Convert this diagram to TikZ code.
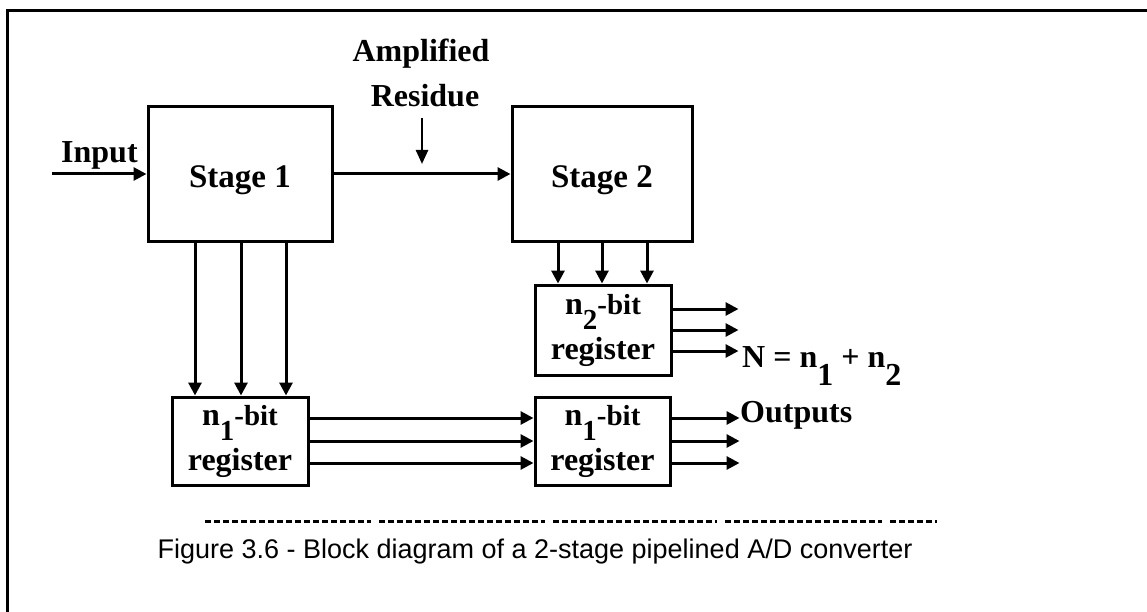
\documentclass[tikz,border=0pt]{standalone}
\usepackage{fontspec}
\setmainfont{Liberation Serif}
\newfontfamily\capfont{Liberation Sans}
\usetikzlibrary{arrows.meta}
\newcommand{\lowdig}[1]{\raisebox{-15pt}{\fontsize{29}{29}\selectfont #1}}
\newcommand{\bigdig}[1]{\raisebox{-18pt}{\fontsize{32}{32}\selectfont #1}}
\newcommand{\smallbit}{{\fontsize{29}{29}\selectfont -bit}}
\begin{document}
\begin{tikzpicture}[x=1pt,y=-1pt,
  blk/.style={draw, line width=3pt, inner sep=0pt, text height=28pt, text depth=0pt,
    font=\bfseries\fontsize{33}{45}\selectfont},
  regbox/.style={draw, line width=3pt, inner sep=0pt, align=center,
    font=\bfseries\fontsize{32}{45}\selectfont},
  lbl/.style={inner sep=0pt, font=\bfseries\fontsize{32}{45}\selectfont},
  arr/.style={line width=3pt, -{Triangle[length=13pt,width=13pt]}},
  thinarr/.style={line width=2.5pt, -{Triangle[length=14pt,width=12pt]}},
  dsh/.style={line width=3pt, dash pattern=on 6pt off 3pt}
]
\useasboundingbox (0,0) rectangle (1147,612);
% frame
\draw[line width=3pt] (1150,11) -- (7,11) -- (7,615);

% blocks
\node[blk, minimum width=184pt, minimum height=134pt] (s1) at (240,174) {Stage 1};
\node[blk, minimum width=180pt, minimum height=134pt] (s2) at (602,174) {Stage 2};
\node[regbox, minimum width=136pt, minimum height=88pt] (r1) at (240,441) {n\lowdig{1}\smallbit\\register};
\node[regbox, minimum width=136pt, minimum height=90pt] (r2) at (603,330) {n\lowdig{2}\smallbit\\register};
\node[regbox, minimum width=135pt, minimum height=88pt] (r3) at (602.5,441) {n\lowdig{1}\smallbit\\register};

% labels
\node[lbl, anchor=base west] (inp) at (61,163) {Input};
\node[lbl, anchor=base] (amp) at (421,62) {Amplified};
\node[lbl, anchor=base] (res) at (425,107) {Residue};
\node[lbl, anchor=base west] (neq) at (742,367) {N = n\bigdig{1} + n\bigdig{2}};
\node[lbl, anchor=base west] (outs) at (740,422) {Outputs};

% input and residue arrows
\coordinate (inst) at (52,174);
\draw[arr] (inst) -- (s1.west);
\draw[arr] (s1.east) -- (s2.west);
\coordinate (rtop) at (422,118);
\coordinate (rtip) at (422,164);
\draw[thinarr] (rtop) -- (rtip);

% stage 1 to register 1
\foreach \dx in {-45,1,46}{
  \draw[arr] ([xshift=\dx pt]s1.south) -- ([xshift=\dx pt]s1.south |- r1.north);
}
% stage 2 to register 2
\foreach \dx in {-44,0,45}{
  \draw[arr] ([xshift=\dx pt]s2.south) -- ([xshift=\dx pt]s2.south |- r2.north);
}
% register 1 to register 3
\foreach \dy in {-23,0,22}{
  \draw[arr] ([yshift=-\dy pt]r1.east) -- ([yshift=-\dy pt]r1.east -| r3.west);
}
% outputs
\foreach \dy/\n in {-23/a,0/b,22/c}{
  \coordinate (o3\n) at ([yshift=-\dy pt, xshift=68pt]r3.east);
  \draw[arr] ([yshift=-\dy pt]r3.east) -- (o3\n);
}
\foreach \dy/\n in {-21/a,0/b,21/c}{
  \coordinate (o2\n) at ([yshift=-\dy pt, xshift=66pt]r2.east);
  \draw[arr] ([yshift=-\dy pt]r2.east) -- (o2\n);
}

% caption
\draw[dsh] (205,521) -- (371,521);
\draw[dsh] (379,521) -- (545,521);
\draw[dsh] (553,521) -- (717,521);
\draw[dsh] (725,521) -- (882,521);
\draw[dsh] (890,521) -- (937,521);
\node[inner sep=0pt, anchor=base, font=\capfont\fontsize{27}{30}\selectfont] (cap) at (535,558) {Figure 3.6 - Block diagram of a 2-stage pipelined A/D converter};
\end{tikzpicture}
\end{document}
